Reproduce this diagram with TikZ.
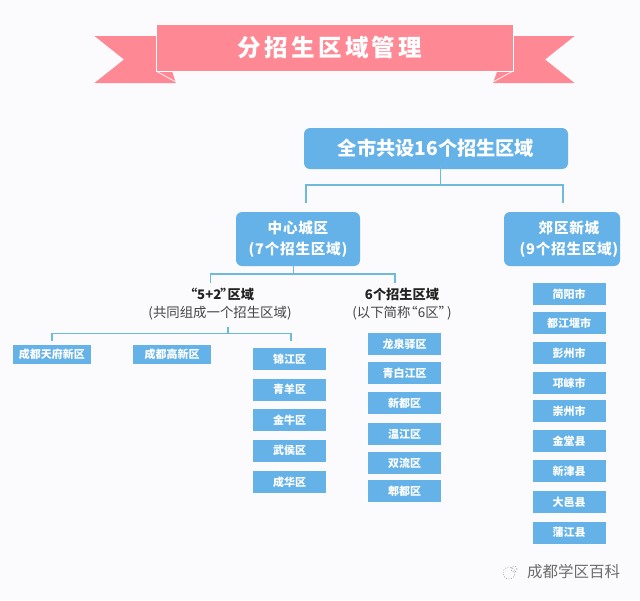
\documentclass[tikz,border=0pt]{standalone}
\usepackage{fontspec}
\setmainfont{Noto Sans CJK SC}
\newfontfamily\sptitle[LetterSpace=14]{Noto Sans CJK SC}
\newfontfamily\spmid[LetterSpace=5]{Noto Sans CJK SC}
\definecolor{bgc}{HTML}{FBFBFE}
\definecolor{pinkc}{HTML}{FF8895}
\definecolor{bluec}{HTML}{65B2E8}
\definecolor{linec}{HTML}{6DBBD8}
\definecolor{inkc}{HTML}{222222}
\definecolor{subc}{HTML}{444444}
\tikzset{
  x=1pt,y=-1pt,
  boxbase/.style={fill=bluec,text=white,inner sep=0pt,outer sep=0pt,align=center,font=\bfseries},
  bigbox/.style={boxbase,rounded corners=6pt},
  smallbox/.style={boxbase,minimum width=73pt,minimum height=22pt,font=\bfseries\fontsize{11}{13}\selectfont},
  widebox/.style={boxbase,minimum width=78pt,minimum height=19pt,font=\bfseries\fontsize{11}{13}\selectfont},
  link/.style={draw=linec,line width=1.1pt},
  head/.style={inner sep=0pt,align=center,text=inkc,font=\bfseries\fontsize{13.2}{15}\selectfont},
  sub/.style={inner sep=0pt,align=center,text=subc,font=\fontsize{13.4}{15}\selectfont},
  ribbon/.style={fill=pinkc,draw=none},
  ribbonedge/.style={draw=white,line width=0.7pt},
}
\begin{document}
\begin{tikzpicture}
\useasboundingbox (0,0) rectangle (640,600);
\fill[bgc] (0,0) rectangle (640,600);
% ribbon
\fill[ribbon] (94.5,36) -- (160,36) -- (176,83) -- (94.5,83) -- (124,59.5) -- cycle;
\fill[ribbon] (574.5,36) -- (510,36) -- (493,83) -- (574.5,83) -- (545,59.5) -- cycle;
\draw[ribbonedge] (156,71) -- (176,82) (513,71) -- (493,82);
\node[ribbon,ribbonedge,minimum width=357pt,minimum height=47pt,inner sep=0pt,outer sep=0pt,text=white,font=\sptitle\bfseries\fontsize{23.5}{27}\selectfont] (title) at (334.5,47.5) {\kern-9pt 分招生区域管理};
% main boxes
\node[bigbox,minimum width=264pt,minimum height=41pt,font=\bfseries\fontsize{19.2}{23}\selectfont] (all) at (436,148.5) {全市共设16个招生区域};
\node[bigbox,minimum width=124pt,minimum height=54pt,font=\spmid\bfseries\fontsize{14.6}{21.5}\selectfont] (center) at (298,239) {中心城区\\(7个招生区域)};
\node[bigbox,minimum width=116pt,minimum height=54pt,font=\spmid\bfseries\fontsize{14.6}{21.5}\selectfont] (suburb) at (562,239) {\kern14pt 郊区新城\\\kern14pt (9个招生区域)};
% headings
\node[head] (h52) at (220,294) {\kern-2pt“5+2\kern-1pt”\kern-6pt 区域};
\node[sub] (s52) at (220,313) {(共同组成一个招生区域)};
\node[head] (h6) at (402,294) {6个招生区域};
\node[sub] (s6) at (402,313) {(以下简称\kern-6pt“6区”\kern-5pt)};
% 5+2 boxes
\node[widebox] (tf) at (52,354.5) {成都天府新区};
\node[widebox] (gx) at (172,354.5) {成都高新区};
\node[smallbox] (jj) at (289.5,359) {锦江区};
\node[smallbox] (qy) at (289.5,389.5) {青羊区};
\node[smallbox] (jn) at (289.5,420) {金牛区};
\node[smallbox] (wh) at (289.5,450.5) {武侯区};
\node[smallbox] (ch) at (289.5,482) {成华区};
% 6 boxes
\node[smallbox] (lq) at (404.5,344) {龙泉驿区};
\node[smallbox] (qb) at (404.5,373) {青白江区};
\node[smallbox] (xd) at (404.5,403) {新都区};
\node[smallbox] (wj) at (404.5,434) {温江区};
\node[smallbox] (sl) at (404.5,463) {双流区};
\node[smallbox] (pd) at (404.5,491) {郫都区};
% suburb boxes
\node[smallbox] (jy) at (569,294) {简阳市};
\node[smallbox] (djy) at (569,323) {都江堰市};
\node[smallbox] (pz) at (569,353) {彭州市};
\node[smallbox] (ql) at (569,383) {邛崃市};
\node[smallbox] (cz) at (569,411) {崇州市};
\node[smallbox] (jt) at (569,441) {金堂县};
\node[smallbox] (xj) at (569,471) {新津县};
\node[smallbox] (dy) at (569,502) {大邑县};
\node[smallbox] (pj) at (569,532.5) {蒲江县};
% connectors
\coordinate (a0) at ([xshift=4.5pt,yshift=3pt]all.south);
\coordinate (a1) at (a0 |- 0,185);
\coordinate (al) at (306,185);
\coordinate (ar) at (563,185);
\coordinate (ald) at (306,203);
\coordinate (ard) at (563,203);
\draw[link] (a0) -- (a1) (ald) -- (al) -- (ar) -- (ard);
\coordinate (b0) at ([xshift=-4.5pt]center.south);
\coordinate (b1) at (b0 |- 0,274);
\coordinate (bl) at (210.5,274);
\coordinate (br) at (395,274);
\coordinate (bld) at (210.5,282.5);
\coordinate (brd) at (395,283);
\draw[link] (b0) -- (b1) (bld) -- (bl) -- (br) -- (brd);
\coordinate (c0) at (228,327);
\coordinate (c1) at (228,333.5);
\coordinate (cl) at (52,333.5);
\coordinate (cr) at (291,333.5);
\coordinate (cld) at (52,341);
\coordinate (crd) at (291,341);
\draw[link] (c0) -- (c1) (cld) -- (cl) -- (cr) -- (crd);
% watermark
\draw[gray!70,line width=0.6pt,dash pattern=on 1pt off 1.5pt] (509,573) circle (6pt);
\draw[gray!70,line width=0.6pt,dash pattern=on 1pt off 1.5pt] (514,569) circle (3pt);
\node[inner sep=0pt,text=gray!85!black,font=\fontsize{15.5}{18}\selectfont] (wm) at (573.5,572) {成都学区百科};
\end{tikzpicture}
\end{document}
